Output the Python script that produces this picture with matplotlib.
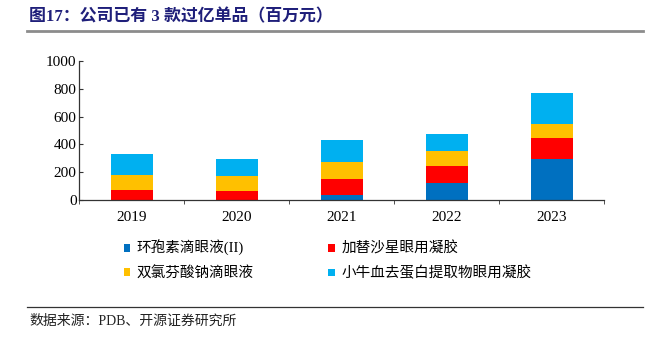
import matplotlib
matplotlib.use("Agg")
import matplotlib.pyplot as plt
from matplotlib.patches import Patch
from matplotlib.lines import Line2D
import numpy as np

plt.rcParams['font.family'] = ['Liberation Serif', 'Noto Sans CJK SC']

# 数据（百万元），读自原图
years = ['2019', '2020', '2021', '2022', '2023']
cyclosporine = [0, 0, 40, 126, 296]      # 环孢素滴眼液(II)
gatifloxacin = [72, 67, 110, 117, 153]   # 加替沙星眼用凝胶
diclofenac = [107, 107, 124, 108, 95]    # 双氯芬酸钠滴眼液
calf_blood = [153, 124, 158, 122, 227]   # 小牛血去蛋白提取物眼用凝胶

series = [
    ('环孢素滴眼液(II)', cyclosporine, '#0070C0'),
    ('加替沙星眼用凝胶', gatifloxacin, '#FF0000'),
    ('双氯芬酸钠滴眼液', diclofenac, '#FFC000'),
    ('小牛血去蛋白提取物眼用凝胶', calf_blood, '#00B0F0'),
]

W, H = 649, 340
fig = plt.figure(figsize=(W / 100, H / 100), dpi=100)
ax = fig.add_axes([79.3 / W, 1 - 200.3 / H, (604 - 79.3) / W, (200.3 - 60.7) / H])

x = np.arange(len(years))
bottom = np.zeros(len(years))
handles = {}
for name, vals, color in series:
    ax.bar(x, vals, width=0.4, bottom=bottom, color=color, edgecolor='none')
    bottom += np.array(vals)
    handles[name] = Patch(facecolor=color, edgecolor='none')

ax.set_xlim(-0.5, len(years) - 0.5)
ax.set_ylim(0, 1000)
ax.set_yticks(range(0, 1001, 200))
ax.set_xticks(x)
ax.set_xticklabels(years)
ax.set_xticks(np.arange(-0.5, len(years)), minor=True)
ax.tick_params(axis='x', which='major', length=0, labelsize=11, pad=8)
ax.tick_params(axis='x', which='minor', length=3, direction='out', color='#333333')
ax.tick_params(axis='y', length=3, direction='in', labelsize=11, pad=2, color='#333333')
for s in ['top', 'right']:
    ax.spines[s].set_visible(False)
for s in ['left', 'bottom']:
    ax.spines[s].set_color('#333333')
    ax.spines[s].set_linewidth(0.9)

order = ['环孢素滴眼液(II)', '双氯芬酸钠滴眼液', '加替沙星眼用凝胶', '小牛血去蛋白提取物眼用凝胶']
fig.legend([handles[n] for n in order], order, ncol=2, loc='upper left',
           bbox_to_anchor=(123.5 / W, 1 - 240 / H), frameon=False, fontsize=10.5,
           handlelength=0.45, handleheight=0.45, handletextpad=0.45,
           columnspacing=5.1, labelspacing=0.7, borderpad=0, borderaxespad=0)

# 标题与分隔线
fig.text(29 / W, 1 - 17 / H, '图17：公司已有 3 款过亿单品（百万元）', fontsize=12.2,
         fontweight='bold', color='#1F1F7A', va='center', ha='left')
fig.add_artist(Line2D([27 / W, 643 / W], [1 - 30.5 / H] * 2, color='#8C8C8C', lw=2))
fig.add_artist(Line2D([27 / W, 643 / W], [1 - 306.7 / H] * 2, color='#333333', lw=0.9))
fig.text(29 / W, 1 - 321 / H, '数据来源：PDB、开源证券研究所', fontsize=10,
         color='#222222', va='center', ha='left')

fig.savefig('out.png', dpi=100)
